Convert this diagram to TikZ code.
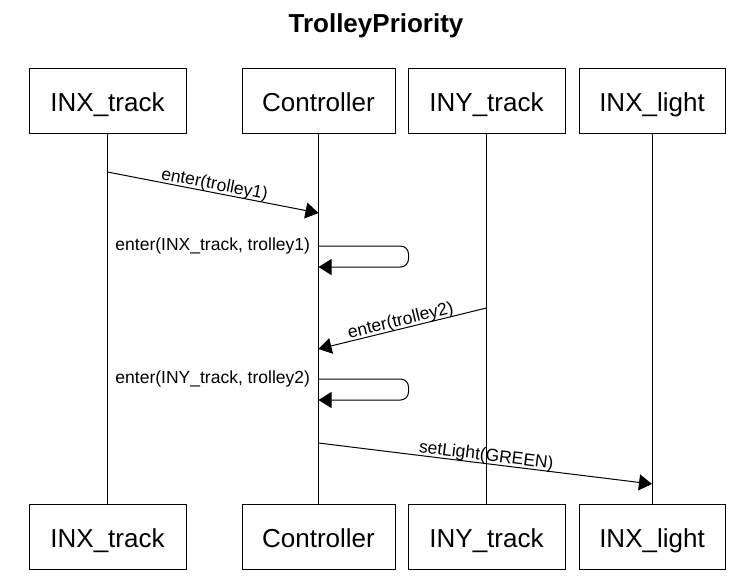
\documentclass[tikz,border=0pt]{standalone}
\usepackage{fontspec}
\setmainfont{Liberation Sans}
\usetikzlibrary{arrows.meta,positioning}
\tikzstyle{lifebox} = [rectangle, draw, fill=white, text height=21pt, text depth=0pt,
    minimum height=65pt, inner sep=0pt, font=\fontsize{26}{30}\selectfont]
\tikzstyle{lifeline} = [draw]
\tikzstyle{msg} = [draw, -{Triangle[length=13pt,width=16pt]}]
\tikzstyle{msglabel} = [inner sep=0pt, font=\fontsize{17.5}{20}\selectfont]

\begin{document}
\begin{tikzpicture}[x=1pt, y=-1pt, line width=1pt]
\useasboundingbox (0,0) rectangle (746,582);
    % Place nodes 
\node[anchor=base, font=\bfseries\fontsize{26}{30}\selectfont] (title) at (376,32) {TrolleyPriority};
\node [lifebox, minimum width=157pt] (inxtop) at (107.5,100.5) {INX\_track};
\node [lifebox, minimum width=153pt, right=55pt of inxtop] (ctrltop) {Controller};
\node [lifebox, minimum width=157pt, right=12pt of ctrltop] (inytop) {INY\_track};
\node [lifebox, minimum width=146pt, right=13pt of inytop] (lighttop) {INX\_light};
\node [lifebox, minimum width=157pt, below=370pt of inxtop] (inxbot) {INX\_track};
\node [lifebox, minimum width=153pt, below=370pt of ctrltop] (ctrlbot) {Controller};
\node [lifebox, minimum width=157pt, below=370pt of inytop] (inybot) {INY\_track};
\node [lifebox, minimum width=146pt, below=370pt of lighttop] (lightbot) {INX\_light};

    % Message points
\coordinate (m1a) at (inxtop.south |- 0,172);
\coordinate (m1b) at (ctrltop.south |- 0,213);
\coordinate (m2a) at (ctrltop.south |- 0,246);
\coordinate (m2b) at (ctrltop.south |- 0,267);
\coordinate (m3a) at (inytop.south |- 0,308);
\coordinate (m3b) at (ctrltop.south |- 0,349);
\coordinate (m4a) at (ctrltop.south |- 0,379);
\coordinate (m4b) at (ctrltop.south |- 0,400);
\coordinate (m5a) at (ctrltop.south |- 0,443);
\coordinate (m5b) at (lighttop.south |- 0,484);

    % Draw lifelines
\path [lifeline] (inxtop) -- (inxbot);
\path [lifeline] (ctrltop) -- (ctrlbot);
\path [lifeline] (inytop) -- (inybot);
\path [lifeline] (lighttop) -- (lightbot);

    % Draw messages
\path [msg] (m1a) -- node[msglabel, sloped, anchor=base, yshift=3pt] {enter(trolley1)} (m1b);
\path [msg, rounded corners=8pt] (m2a) node[msglabel, anchor=east, xshift=-8pt] {enter(INX\_track, trolley1)} -- ++(90,0) |- (m2b);
\path [msg] (m3a) -- node[msglabel, sloped, anchor=base, yshift=3pt] {enter(trolley2)} (m3b);
\path [msg, rounded corners=8pt] (m4a) node[msglabel, anchor=east, xshift=-8pt] {enter(INY\_track, trolley2)} -- ++(90,0) |- (m4b);
\path [msg] (m5a) -- node[msglabel, sloped, anchor=base, yshift=3pt] {setLight(GREEN)} (m5b);

\end{tikzpicture}
\end{document}
